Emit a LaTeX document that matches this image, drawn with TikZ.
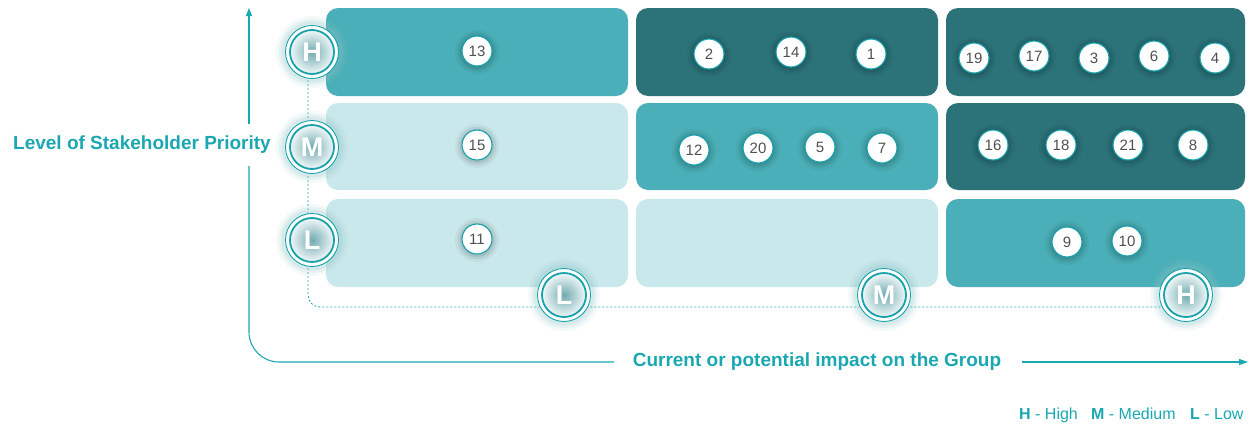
\documentclass[tikz,border=0pt]{standalone}
\usepackage{fontspec}
\setmainfont{Liberation Sans}
\usetikzlibrary{arrows.meta}
\definecolor{tealtxt}{HTML}{1AA7B2}
\definecolor{cdark}{HTML}{2B7379}
\definecolor{cmid}{HTML}{4AAFB8}
\definecolor{clight}{HTML}{C9E8EB}
\definecolor{ring}{HTML}{17A2AB}
\definecolor{numtxt}{HTML}{505050}
\definecolor{glowc}{HTML}{8FC3C8}
\begin{document}
\begin{tikzpicture}[x=1pt,y=-1pt,
  cell/.style={rectangle, rounded corners=12pt, draw=none, inner sep=0pt},
  num/.style={circle, draw=ring, line width=1.1pt, fill=white, minimum size=30pt, inner sep=0pt,
    font=\fontsize{15}{15}\selectfont, text=numtxt},
  lvl/.style={circle, draw=ring, line width=1.8pt, minimum size=44pt, inner sep=0pt,
    inner color=glowc!70!cdark, outer color=white!88!glowc, text=white,
    font=\fontsize{27}{27}\selectfont\bfseries},
  axisline/.style={draw=tealtxt, line width=1.1pt},
  dashline/.style={draw=tealtxt, line width=0.8pt, dash pattern=on 2pt off 2pt},
  axislabel/.style={text=tealtxt, font=\fontsize{19}{22}\selectfont\bfseries, inner sep=0pt},
  legend/.style={text=tealtxt, font=\fontsize{16}{18}\selectfont, inner sep=0pt}
]
\useasboundingbox (0,0) rectangle (1260,426);

% cells
\node[cell, fill=cmid,   minimum width=302pt, minimum height=88pt] (cHL) at (477,52) {};
\node[cell, fill=cdark,  minimum width=302pt, minimum height=88pt] (cHM) at (787,52) {};
\node[cell, fill=cdark,  minimum width=299pt, minimum height=88pt] (cHH) at (1095.5,52) {};
\node[cell, fill=clight, minimum width=302pt, minimum height=87pt] (cML) at (477,146.5) {};
\node[cell, fill=cmid,   minimum width=302pt, minimum height=87pt] (cMM) at (787,146.5) {};
\node[cell, fill=cdark,  minimum width=299pt, minimum height=87pt] (cMH) at (1095.5,146.5) {};
\node[cell, fill=clight, minimum width=302pt, minimum height=88pt] (cLL) at (477,243) {};
\node[cell, fill=clight, minimum width=302pt, minimum height=88pt] (cLM) at (787,243) {};
\node[cell, fill=cmid,   minimum width=299pt, minimum height=88pt] (cLH) at (1095.5,243) {};

% number markers
\foreach \x/\y/\t in {477/51/13, 709/54/2, 791/52/14, 871/54/1,
  974/58/19, 1034/56/17, 1094/58/3, 1154/56/6, 1215/58/4,
  477/145/15, 694/150/12, 758/148/20, 820/147/5, 882/148/7,
  993/145/16, 1061/145/18, 1128/145/21, 1193/145/8,
  477/239/11, 1067/242/9, 1127/241/10} {
  \fill[black, opacity=0.04] (\x,\y+1) circle (22);
  \fill[black, opacity=0.06] (\x,\y+1) circle (19.5);
  \fill[black, opacity=0.08] (\x,\y+1) circle (17);
  \node[num] (n\t) at (\x,\y) {\t};
}

% dashed guide
\coordinate (dstart) at (308,80);
\coordinate (dend) at (1186,307);
\draw[dashline, rounded corners=12pt] (dstart) |- (dend);

% axes
\node[axislabel, anchor=east] (ylab) at (271,145) {Level of Stakeholder Priority};
\coordinate (ytop) at (249,8);
\coordinate (yabove) at (249,124);
\coordinate (ybelow) at (249,166);
\coordinate (xleftend) at (614,362);
\draw[axisline, -{Triangle[length=8pt,width=6pt]}] (yabove) -- (ytop);
\draw[axisline, rounded corners=30pt] (ybelow) |- (xleftend);
\node[axislabel] (xlab) at (817,362) {Current or potential impact on the Group};
\coordinate (xstart) at (1022,362);
\coordinate (xend) at (1248,362);
\draw[axisline, -{Triangle[length=9pt,width=6pt]}] (xstart) -- (xend);

% level markers
\foreach \x/\y/\t/\n in {312/52/H/lvH, 312/147/M/lvM, 312/240/L/lvL,
  564/295/L/hlL, 884/295/M/hlM, 1186/295/H/hlH} {
  \fill[glowc, opacity=0.10] (\x,\y) circle (36);
  \fill[glowc, opacity=0.14] (\x,\y) circle (33);
  \fill[glowc, opacity=0.18] (\x,\y) circle (30.5);
  \draw[draw=ring, line width=0.9pt, fill=white] (\x,\y) circle (26.5);
  \node[lvl] (\n) at (\x,\y) {\t};
}

% legend
\node[legend, anchor=base west] (lgH) at (1019,419) {\textbf{H} - High};
\node[legend, anchor=base west] (lgM) at (1091,419) {\textbf{M} - Medium};
\node[legend, anchor=base west] (lgL) at (1190,419) {\textbf{L} - Low};
\end{tikzpicture}
\end{document}
